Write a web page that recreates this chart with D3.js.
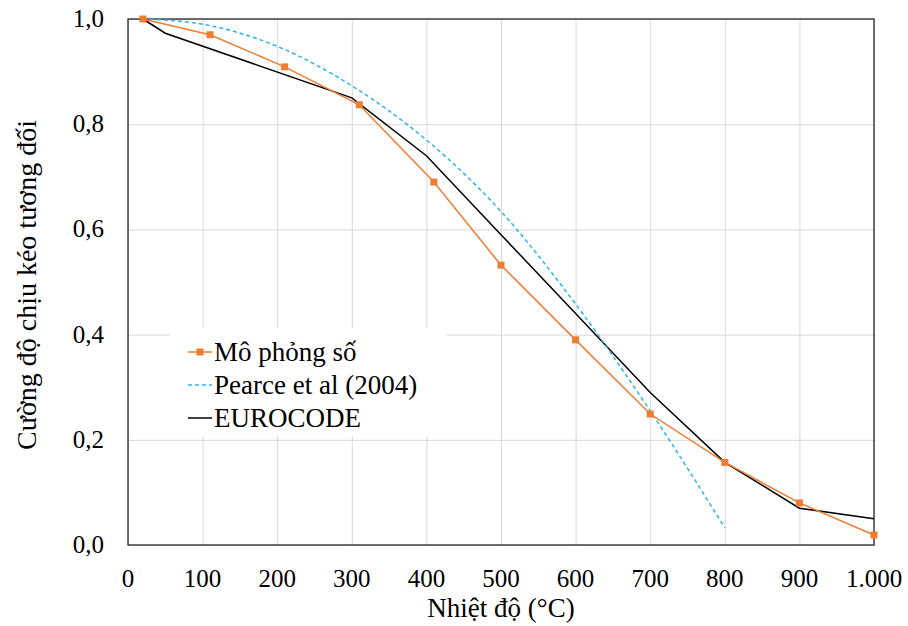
<html>
<head>
<script src="https://d3js.org/d3.v7.min.js"></script>
<style>
  body { margin: 0; background: white; }
  text { font-family: "Liberation Serif", "Times New Roman", serif; fill: #000; }
</style>
</head>
<body>
<svg id="chart" width="908" height="626"></svg>
<script>
// data
var moPhongT = [20, 110, 210, 310, 410, 500, 600, 700, 800, 900, 1000];
var moPhongK = [1.0, 0.97, 0.909, 0.837, 0.69, 0.532, 0.39, 0.249, 0.157, 0.08, 0.019];

var pearceT = [20, 100, 200, 300, 400, 500, 600, 700, 800];
var pearceK = [1.0, 0.99, 0.948, 0.873, 0.77, 0.634, 0.458, 0.255, 0.033];

var euroT = [20, 50, 300, 400, 500, 600, 700, 800, 900, 1000];
var euroK = [1.0, 0.973, 0.85, 0.74, 0.59, 0.44, 0.29, 0.157, 0.07, 0.05];

var xTicks = [0, 100, 200, 300, 400, 500, 600, 700, 800, 900, 1000];
var xTickLabels = ["0", "100", "200", "300", "400", "500", "600", "700", "800", "900", "1.000"];
var yTicks = [0, 0.2, 0.4, 0.6, 0.8, 1.0];
var yTickLabels = ["0,0", "0,2", "0,4", "0,6", "0,8", "1,0"];

var seriesNames = ["Mô phỏng số", "Pearce et al (2004)", "EUROCODE"];
var seriesColors = ["#ED7D31", "#2DB4EA", "#000000"];

var pLeft = 128, pRight = 874, pTop = 19, pBottom = 545;
var svg = d3.select("#chart");

var x = d3.scaleLinear().domain([0, 1000]).range([pLeft, pRight]);
var y = d3.scaleLinear().domain([0, 1]).range([pBottom, pTop]);

// gridlines
svg.append("g").attr("transform", "translate(0," + pBottom + ")")
  .call(d3.axisBottom(x).tickValues(xTicks).tickSize(-(pBottom - pTop)).tickFormat(""))
  .call(g => g.select(".domain").remove())
  .selectAll("line").attr("stroke", "#d9d9d9");
svg.append("g").attr("transform", "translate(" + pLeft + ",0)")
  .call(d3.axisLeft(y).tickValues(yTicks).tickSize(-(pRight - pLeft)).tickFormat(""))
  .call(g => g.select(".domain").remove())
  .selectAll("line").attr("stroke", "#d9d9d9");

// legend background hides the grid
svg.append("rect").attr("x", 170).attr("y", 328).attr("width", 277).attr("height", 108).attr("fill", "white");

// frame
svg.append("rect").attr("x", pLeft).attr("y", pTop).attr("width", pRight - pLeft).attr("height", pBottom - pTop)
  .attr("fill", "none").attr("stroke", "#262626").attr("stroke-width", 1.3);

// tick labels
svg.append("g").selectAll("text").data(xTicks).enter().append("text")
  .attr("x", d => x(d)).attr("y", 587)
  .attr("text-anchor", "middle").style("font-size", "25px")
  .text((d, i) => xTickLabels[i]);
svg.append("g").selectAll("text").data(yTicks).enter().append("text")
  .attr("x", 104).attr("y", d => y(d) + 8)
  .attr("text-anchor", "end").style("font-size", "25px")
  .text((d, i) => yTickLabels[i]);

// axis titles
svg.append("text").attr("x", 501).attr("y", 617).attr("text-anchor", "middle")
  .style("font-size", "27px").text("Nhiệt độ (°C)");
svg.append("text").attr("transform", "translate(36,285) rotate(-90)")
  .attr("text-anchor", "middle").style("font-size", "28px").text("Cường độ chịu kéo tương đối");

var line = d3.line().x(d => x(d[0])).y(d => y(d[1]));
var smooth = d3.line().x(d => x(d[0])).y(d => y(d[1])).curve(d3.curveMonotoneX);

var euro = euroT.map((t, i) => [t, euroK[i]]);
var pearce = pearceT.map((t, i) => [t, pearceK[i]]);
var moPhong = moPhongT.map((t, i) => [t, moPhongK[i]]);

svg.append("path").datum(euro).attr("d", line)
  .attr("fill", "none").attr("stroke", seriesColors[2]).attr("stroke-width", 1.5);
svg.append("path").datum(pearce).attr("d", smooth)
  .attr("fill", "none").attr("stroke", seriesColors[1]).attr("stroke-width", 1.5)
  .attr("stroke-dasharray", "4,3");
svg.append("path").datum(moPhong).attr("d", line)
  .attr("fill", "none").attr("stroke", seriesColors[0]).attr("stroke-width", 1.5);
svg.append("g").selectAll("rect").data(moPhong).enter().append("rect")
  .attr("x", d => x(d[0]) - 3.5).attr("y", d => y(d[1]) - 3.5)
  .attr("width", 7).attr("height", 7).attr("fill", seriesColors[0]);

// legend
var leg = svg.append("g").selectAll("g").data(seriesNames).enter().append("g")
  .attr("transform", (d, i) => "translate(188," + (352 + i * 33) + ")");
leg.append("line").attr("x1", 0).attr("x2", 24).attr("y1", 0).attr("y2", 0)
  .attr("stroke", (d, i) => seriesColors[i]).attr("stroke-width", 1.5)
  .attr("stroke-dasharray", (d, i) => i == 1 ? "4,3" : null);
leg.filter((d, i) => i == 0).append("rect")
  .attr("x", 8.5).attr("y", -3.5).attr("width", 7).attr("height", 7).attr("fill", seriesColors[0]);
leg.append("text").attr("x", 26).attr("y", 9).style("font-size", "27px").text(d => d);
</script>
</body>
</html>
